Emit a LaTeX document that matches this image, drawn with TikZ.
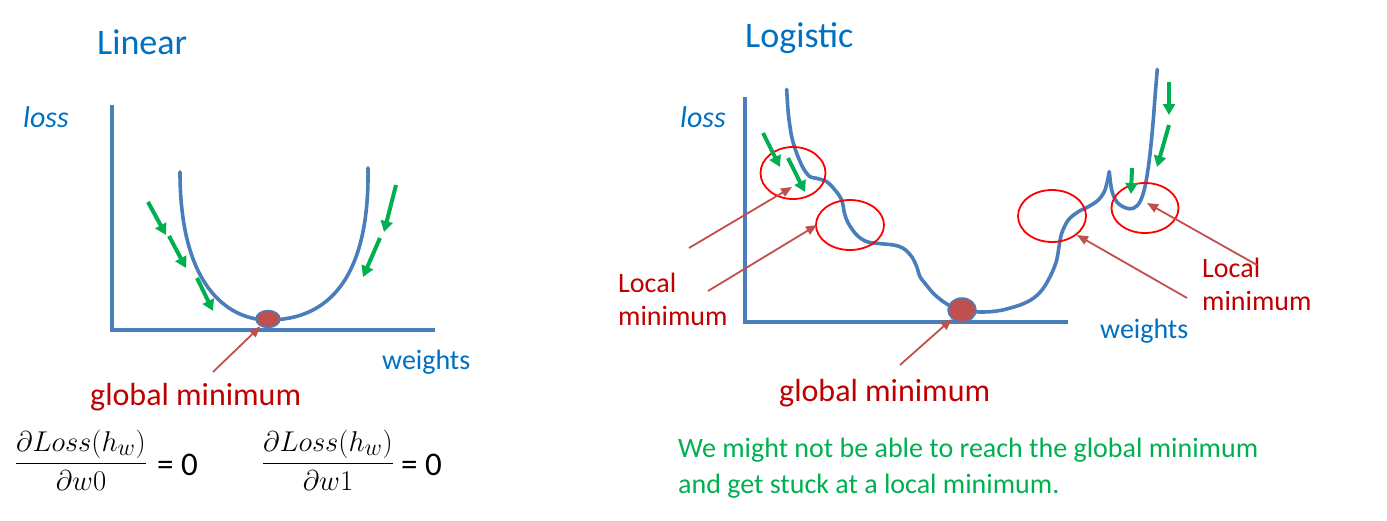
\documentclass[tikz,border=0pt]{standalone}
\usepackage{fontspec}
\setmainfont{Carlito}
\usetikzlibrary{arrows.meta,shapes.geometric}
\definecolor{cblue}{HTML}{4A7EBB}
\definecolor{tblue}{HTML}{0070C0}
\definecolor{dred}{HTML}{C00000}
\definecolor{pred}{HTML}{C0504D}
\definecolor{grn}{HTML}{00B050}
\definecolor{cred}{HTML}{FF0000}
\begin{document}
\begin{tikzpicture}[x=1pt,y=-1pt,
  axisline/.style={draw=cblue,line width=4pt},
  lossline/.style={draw=cblue,line width=3.6pt,line cap=round},
  ballnode/.style={ellipse,draw=cblue,line width=1.5pt,fill=pred,inner sep=0pt},
  ringnode/.style={ellipse,draw=cred,line width=1.8pt,inner sep=0pt},
  ptr/.style={draw=pred,line width=1.8pt,-{Triangle[length=11pt,width=9pt]}},
  garrow/.style={draw=grn,line width=4pt,-{Triangle[length=11pt,width=12pt]}},
  lbl/.style={inner sep=0pt,anchor=base west},
  ttl/.style={lbl,text=tblue,font=\fontsize{36}{43}\selectfont},
  axlbl/.style={lbl,text=tblue,font=\fontsize{28}{34}\selectfont},
  losslbl/.style={lbl,text=tblue,font=\fontsize{30}{36}\selectfont\itshape},
  redlbl/.style={lbl,text=dred,font=\fontsize{28}{34}\selectfont},
  gmlbl/.style={lbl,text=dred,font=\fontsize{32}{38}\selectfont},
  greenlbl/.style={lbl,text=grn,font=\fontsize{28}{34}\selectfont},
  fraclbl/.style={inner sep=0pt,anchor=base,scale=1.15,font=\Huge},
  eqlbl/.style={lbl,font=\fontsize{33}{39}\selectfont}
]
\useasboundingbox (0,0) rectangle (1387,520);

% ---------- Linear ----------
\node[ttl] (tlin) at (97,54) {Linear};
\node[losslbl] (loss1) at (23,127) {loss};
\draw[axisline] (112,105) -- (112,330) -- (435,330);
\draw[lossline] (180,172) .. controls (180,295) and (235,320) .. (268,320)
                .. controls (310,320) and (370,300) .. (368,168);
\node[ballnode,minimum width=24pt,minimum height=17pt] (ball1) at (268,319) {};
\node[axlbl] (w1) at (382,369) {weights};
\node[gmlbl] (g1) at (90,405) {global minimum};
\coordinate (gs1) at (213,372);
\draw[ptr] (gs1) -- (ball1);

\coordinate (la1) at (148,202); \coordinate (lb1) at (166,235);
\coordinate (la2) at (169,236); \coordinate (lb2) at (186,268);
\coordinate (la3) at (197,278); \coordinate (lb3) at (213,311);
\coordinate (la4) at (396,185); \coordinate (lb4) at (384,232);
\coordinate (la5) at (380,238); \coordinate (lb5) at (363,277);
\foreach \i in {1,...,5} \draw[garrow] (la\i) -- (lb\i);

\node[fraclbl] (f1) at (81,470.5) {$\displaystyle\frac{\partial Loss(h_w)}{\partial w0}$};
\node[eqlbl] (e1) at (157,475) {= 0};
\node[fraclbl] (f2) at (328,470.5) {$\displaystyle\frac{\partial Loss(h_w)}{\partial w1}$};
\node[eqlbl] (e2) at (401,475) {= 0};

% ---------- Logistic ----------
\node[ttl] (tlog) at (745,47) {Logistic};
\node[losslbl] (loss2) at (680,127) {loss};
\draw[axisline] (745,97) -- (745,322) -- (1068,322);
\draw[lossline] plot[smooth,tension=0.55] coordinates {
 (786.7,89.3) (788.3,113.3) (791.7,136.7) (796.7,153.3) (803.3,168.3)
 (810,176.7) (816.7,178.3) (826.7,181.7) (835,190) (841.7,200)
 (844.5,213.3) (848.3,223.3) (856.7,235) (866.7,241.7) (876.7,243.3)
 (893.3,245) (903.3,248.3) (911.7,256.7) (916.7,266.7) (920,276.7)
 (925,283.3) (933.3,293.3) (943.3,301.7) (951.7,306.7) (962,310.5)
 (982,312) (1000,310.5) (1020,305) (1033.3,298.3) (1043.3,288.3)
 (1051.7,273.3) (1056.7,260) (1059,246.7) (1061.7,233.3) (1068.3,220)
 (1078.3,211.7) (1088.3,206.7) (1098.3,200) (1105,190) (1109.3,171.7)};
\draw[lossline] plot[smooth,tension=0.55] coordinates {
 (1109.3,171.7) (1111.7,190) (1116.7,201.7) (1125,207.7) (1133.3,208.3)
 (1140,201.7) (1145,186.7) (1149.3,160) (1152.7,126.7) (1155.3,93.3) (1157.3,69.3)};
\node[ballnode,minimum width=28pt,minimum height=24pt] (ball2) at (962,310) {};

\node[ringnode,minimum width=65pt,minimum height=52pt] (c1) at (793,173) {};
\node[ringnode,minimum width=68pt,minimum height=50pt] (c2) at (850,225) {};
\node[ringnode,minimum width=68pt,minimum height=52pt] (c3) at (1052,216) {};
\node[ringnode,minimum width=67pt,minimum height=50pt] (c4) at (1145,208) {};

\node[redlbl] (loc1) at (618,292) {Local};
\node[redlbl] (min1) at (618,325) {minimum};
\node[redlbl] (loc2) at (1202,277) {Local};
\node[redlbl] (min2) at (1202,310) {minimum};
\node[axlbl] (w2) at (1100,338) {weights};
\node[gmlbl] (g2) at (779,401) {global minimum};

\coordinate (s1) at (689,248); \coordinate (t1) at (792,187);
\coordinate (s2) at (708,291); \coordinate (t2) at (817,225);
\coordinate (s4) at (1187,298); \coordinate (t4) at (1077,235);
\coordinate (s5) at (1257,265); \coordinate (t5) at (1147,203);
\coordinate (gs2) at (900,365);
\draw[ptr] (s1) -- (t1);
\draw[ptr] (s2) -- (t2);
\draw[ptr] (s4) -- (t4);
\draw[ptr] (s5) -- (t5);
\draw[ptr] (gs2) -- (ball2);

\coordinate (ra1) at (763,133); \coordinate (rb1) at (780,167);
\coordinate (ra2) at (788,158); \coordinate (rb2) at (805,192);
\coordinate (ra3) at (1169,82);  \coordinate (rb3) at (1169,115);
\coordinate (ra4) at (1169,125); \coordinate (rb4) at (1157,167);
\coordinate (ra5) at (1132,168); \coordinate (rb5) at (1131,194);
\foreach \i in {1,...,5} \draw[garrow] (ra\i) -- (rb\i);

\node[greenlbl] (gt1) at (678,457) {We might not be able to reach the global minimum};
\node[greenlbl] (gt2) at (678,493) {and get stuck at a local minimum.};
\end{tikzpicture}
\end{document}
